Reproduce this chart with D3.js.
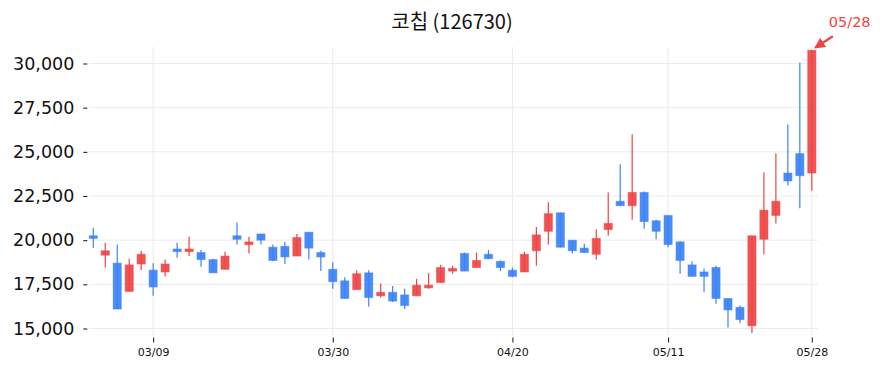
<!DOCTYPE html>
<html><head><meta charset="utf-8">
<script src="https://cdn.jsdelivr.net/npm/d3@7"></script>
<style>body{margin:0;background:#fff;} svg{display:block;}</style>
</head><body><svg id="c" width="883" height="373"></svg>
<script>
const title = "코칩 (126730)";
const dates = ["03/02","03/03","03/04","03/05","03/08","03/09","03/10","03/11","03/12","03/15",
"03/16","03/17","03/18","03/19","03/22","03/23","03/24","03/25","03/26","03/29",
"03/30","03/31","04/01","04/02","04/05","04/06","04/07","04/08","04/09","04/12",
"04/13","04/14","04/15","04/16","04/19","04/20","04/21","04/22","04/23","04/26",
"04/27","04/28","04/29","05/03","05/04","05/06","05/07","05/10","05/11","05/12",
"05/13","05/14","05/17","05/18","05/20","05/21","05/24","05/25","05/26","05/27","05/28"];
const open  = [20250,19150,18700,17100,18650,18300,18200,19500,19350,19300,
18900,18350,20250,19750,20350,19600,19650,19100,20450,19300,
18350,17700,17200,18150,16850,17050,16900,16850,17300,17600,
18250,19250,18450,19200,18800,18300,18200,19400,20500,21550,
20000,19550,19200,20600,22200,21950,22700,21100,21400,19900,
18600,18200,18450,16700,16200,15150,20050,21400,23800,24900,23800];
const high  = [20700,19850,19750,18950,19400,18700,18900,19850,20200,19450,
18950,19350,21000,20200,20350,19750,19900,20350,20450,19400,
18750,17900,18300,18300,17550,17400,17250,17800,18150,18600,
18550,19300,19300,19450,18850,18450,19350,20750,22150,21550,
20000,19800,20600,22700,24300,26000,22750,21150,21400,19950,
18800,18400,18550,16700,16300,20250,23850,24900,26550,30050,30750];
const low   = [19550,18450,16100,17100,18300,16850,17950,19000,19100,18500,
18150,18350,19750,19250,19750,18800,18650,19100,18900,18250,
17250,16700,17200,16250,16750,16500,16100,16850,17250,17600,
18100,18250,18450,18950,18250,17900,18200,18550,19750,19600,
19250,19300,18900,20250,21950,21150,20650,20050,19600,18100,
17950,17050,16400,15050,15300,14750,19200,20950,23100,21800,22800];
const close = [20100,19400,16100,18600,19200,17350,18650,19350,19500,18900,
18150,19100,20050,19900,20000,18850,19050,20150,19550,19050,
17650,16700,18100,16750,17050,16550,16300,17450,17450,18450,
18400,18250,18850,18950,18450,17950,19200,20300,21500,19600,
19400,19300,20100,20950,21950,22700,21050,20500,19750,18850,
17950,17950,16700,16050,15500,20250,21700,22200,23350,23650,30750];
const yTicks = [15000,17500,20000,22500,25000,27500,30000];
const xTickLabels = ["03/09","03/30","04/20","05/11","05/28"];
const annotationLabel = "05/28";

const UP = "#ef4444", DOWN = "#3b82f6";
const svg = d3.select("#c");
const pLeft = 87.3, pRight = 817.8, pTop = 47, pBottom = 336;

const x = d3.scalePoint().domain(dates).range([pLeft, pRight]).padding(0.5);
const y = d3.scaleLinear().domain([15000, 30000]).range([328.5, 63.5]);
const step = x.step();
const bw = step * 0.68;

// grid
const g = svg.append("g");
g.selectAll("line.hg").data(yTicks).join("line")
  .attr("x1", 89).attr("x2", pRight).attr("y1", d => y(d)).attr("y2", d => y(d))
  .attr("stroke", "#ebebeb").attr("stroke-width", 1);
g.selectAll("line.vg").data(xTickLabels).join("line")
  .attr("x1", d => x(d)).attr("x2", d => x(d)).attr("y1", pTop).attr("y2", pBottom)
  .attr("stroke", "#ebebeb").attr("stroke-width", 1);

// axes
const yAxis = d3.axisLeft(y).tickValues(yTicks).tickFormat(d3.format(",")).tickSize(4).tickPadding(9);
const ya = svg.append("g").attr("transform", `translate(${pLeft},0)`).call(yAxis);
ya.select(".domain").remove();
ya.selectAll("text").attr("font-family", "DejaVu Sans").attr("font-size", 17.5).attr("fill", "#111");
ya.selectAll("line").attr("stroke", "#111");

const xAxis = d3.axisBottom(x).tickValues(xTickLabels).tickSize(5).tickPadding(6);
const xa = svg.append("g").attr("transform", `translate(0,337.5)`).call(xAxis);
xa.select(".domain").remove();
xa.selectAll("text").attr("font-family", "DejaVu Sans").attr("font-size", 11).attr("fill", "#111");
xa.selectAll("line").attr("stroke", "#111");

// candles
const data = dates.map((d, i) => ({d, o: open[i], h: high[i], l: low[i], c: close[i]}));
const cg = svg.append("g");
cg.selectAll("line.w").data(data).join("line")
  .attr("x1", d => x(d.d)).attr("x2", d => x(d.d))
  .attr("y1", d => y(d.h)).attr("y2", d => y(d.l))
  .attr("stroke", d => d.c >= d.o ? UP : DOWN).attr("stroke-width", 1.2);
cg.selectAll("rect").data(data).join("rect")
  .attr("x", d => x(d.d) - bw / 2).attr("width", bw)
  .attr("y", d => y(Math.max(d.o, d.c)))
  .attr("height", d => Math.max(1, Math.abs(y(d.o) - y(d.c))))
  .attr("fill", d => d.c >= d.o ? UP : DOWN)
  .attr("fill-opacity", 0.92)
  .attr("stroke", d => d.c >= d.o ? UP : DOWN).attr("stroke-opacity", 0.5).attr("stroke-width", 1);

// title
svg.append("text").attr("x", 452).attr("y", 29).attr("text-anchor", "middle")
  .attr("font-family", "Noto Sans CJK KR").attr("font-size", 20).attr("fill", "#111").text(title);

// annotation
const last = data[data.length - 1];
const ax = x(last.d), ay = y(last.h);
svg.append("defs").append("marker").attr("id", "ah").attr("viewBox", "0 0 10 10")
  .attr("refX", 8).attr("refY", 5).attr("markerWidth", 5).attr("markerHeight", 5)
  .attr("orient", "auto").append("path").attr("d", "M0,0L10,5L0,10z").attr("fill", UP);
svg.append("line").attr("x1", ax + 21).attr("y1", ay - 14).attr("x2", ax + 4).attr("y2", ay - 3)
  .attr("stroke", UP).attr("stroke-width", 2.2).attr("marker-end", "url(#ah)");
svg.append("text").attr("x", ax + 17).attr("y", ay - 23)
  .attr("font-family", "DejaVu Sans").attr("font-size", 14.5).attr("fill", UP).text(annotationLabel);
</script></body></html>
